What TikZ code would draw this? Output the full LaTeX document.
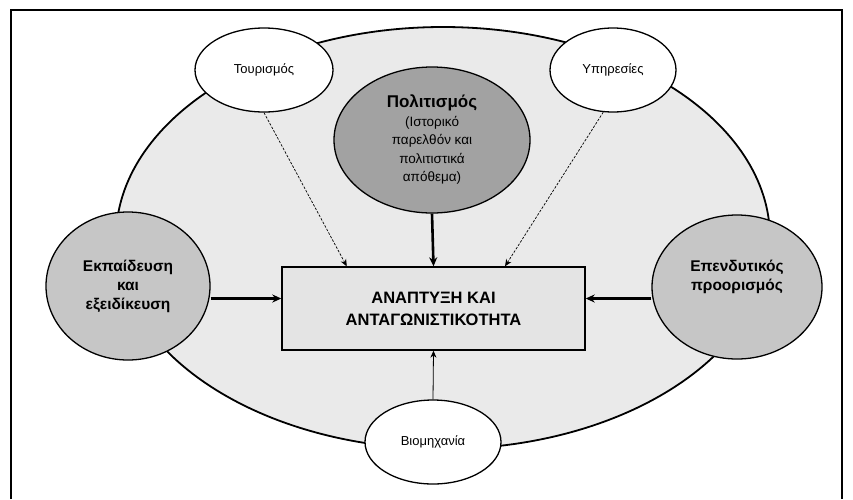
\documentclass[tikz,border=0pt]{standalone}
\usepackage{fontspec}
\setmainfont{Liberation Sans}
\usetikzlibrary{shapes.geometric,arrows.meta,calc}
\definecolor{bigfill}{HTML}{EAEAEA}
\definecolor{boxfill}{HTML}{E4E4E4}
\definecolor{darkfill}{HTML}{A2A2A2}
\definecolor{midfill}{HTML}{C6C6C6}
\begin{document}
\begin{tikzpicture}[x=1pt,y=-1pt,
  oval/.style={ellipse, draw=black, line width=1.3pt, inner sep=0pt, align=center},
  plain/.style={font=\fontsize{13}{15}\selectfont},
  boldtxt/.style={font=\bfseries\fontsize{15.5}{19}\selectfont, align=center},
  thickarrow/.style={line width=2.6pt, -{Stealth[length=9pt,width=8pt]}},
  thinarrow/.style={line width=0.8pt, -{Stealth[length=7pt,width=6pt]}},
  dasharrow/.style={line width=0.7pt, dash pattern=on 2.5pt off 1.5pt, -{Stealth[length=7pt,width=6pt]}}]
\useasboundingbox (0,0) rectangle (853,499);
% frame
\draw[line width=1.6pt] (11,499) -- (11,10) -- (842,10) -- (842,499);
% big ellipse
\node[oval, line width=1.8pt, fill=bigfill, minimum width=654pt, minimum height=422pt] (big) at (443,238) {};
% central box
\node[draw=black, line width=1.4pt, fill=boxfill, minimum width=303pt, minimum height=83pt, inner sep=0pt,
      font=\bfseries\fontsize{16.5}{22}\selectfont, align=center] (box) at (433.5,308.5)
      {ΑΝΑΠΤΥΞΗ ΚΑΙ\\ΑΝΤΑΓΩΝΙΣΤΙΚΟΤΗΤΑ};
% satellites
\node[oval, fill=white, minimum width=138pt, minimum height=84pt, plain] (tour) at (264,70) {Τουρισμός};
\node[oval, fill=white, minimum width=126pt, minimum height=84pt, plain] (serv) at (613,70) {Υπηρεσίες};
\node[oval, fill=darkfill, minimum width=196pt, minimum height=146pt,
      font=\fontsize{13.5}{18.5}\selectfont] (cult) at (432,140)
      {{\bfseries\fontsize{17}{18.5}\selectfont Πολιτισμός}\\(Ιστορικό\\παρελθόν και\\πολιτιστικά\\απόθεμα)};
\node[oval, fill=midfill, minimum width=164pt, minimum height=148pt, boldtxt] (edu) at (128,286)
      {Εκπαίδευση\\και\\εξειδίκευση};
\node[oval, fill=midfill, minimum width=170pt, minimum height=144pt] (inv) at (737,287) {};
\node[boldtxt] (invtxt) at (737,277) {Επενδυτικός\\προορισμός};
\node[oval, fill=white, minimum width=136pt, minimum height=84pt, plain] (ind) at (433,442) {Βιομηχανία};
% connector end points on the box
\coordinate (boxT1) at ($(box.north west)!0.215!(box.north east)$);
\coordinate (boxT2) at ($(box.north west)!0.735!(box.north east)$);
\coordinate (boxL) at ($(box.west)+(0,-10)$);
\coordinate (boxR) at ($(box.east)+(0,-10)$);
% connectors
\draw[dasharrow] (tour.south) -- (boxT1);
\draw[dasharrow] (serv.257) -- (boxT2);
\draw[thickarrow] (cult.south) -- (box.north);
\draw[thickarrow] (edu.east |- boxL) -- (boxL);
\draw[thickarrow] (inv.west |- boxR) -- (boxR);
\draw[thinarrow] (ind.north) -- (box.south);
\end{tikzpicture}
\end{document}
